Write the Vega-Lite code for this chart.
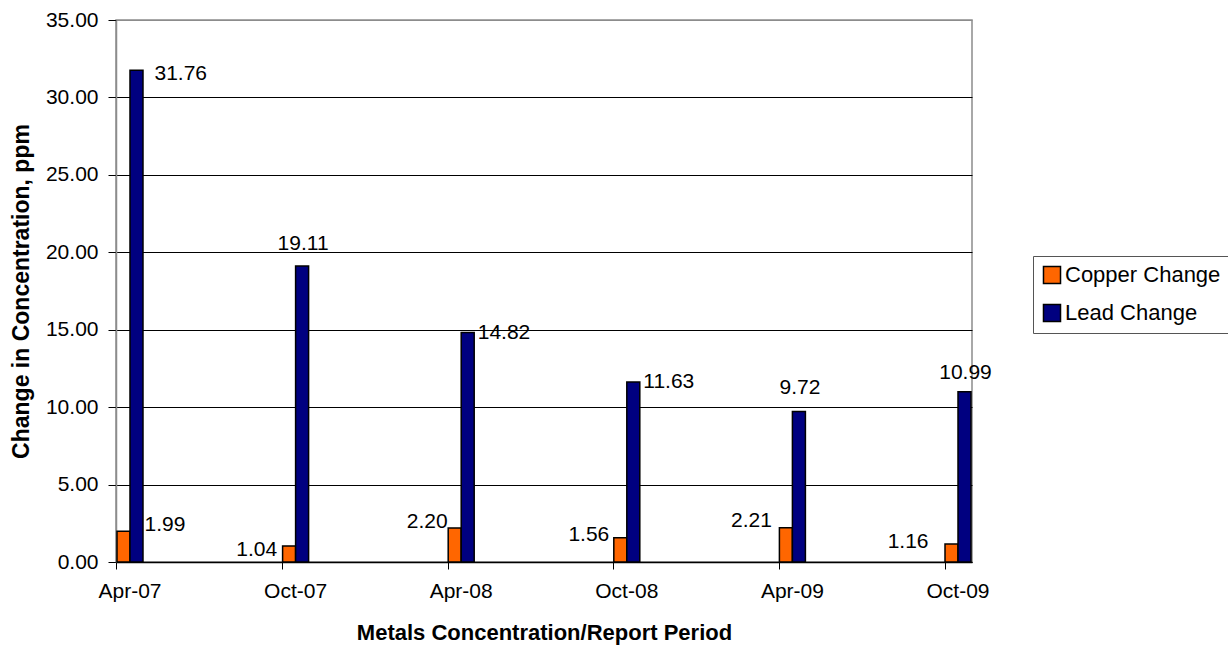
{
  "$schema": "https://vega.github.io/schema/vega-lite/v6.json",
  "width": 856,
  "height": 542,
  "autosize": {"type": "none"},
  "padding": {"left": 116, "top": 20, "right": 256, "bottom": 83},
  "background": "white",
  "config": {
    "font": "Liberation Sans",
    "view": {"stroke": "#8c8c8c", "strokeWidth": 1.5},
    "text": {"font": "Liberation Sans", "fontSize": 21, "color": "black"}
  },
  "data": {
    "values": [
      {"period": "Apr-07", "metal": "Copper Change", "value": 1.99},
      {"period": "Apr-07", "metal": "Lead Change", "value": 31.76},
      {"period": "Oct-07", "metal": "Copper Change", "value": 1.04},
      {"period": "Oct-07", "metal": "Lead Change", "value": 19.11},
      {"period": "Apr-08", "metal": "Copper Change", "value": 2.20},
      {"period": "Apr-08", "metal": "Lead Change", "value": 14.82},
      {"period": "Oct-08", "metal": "Copper Change", "value": 1.56},
      {"period": "Oct-08", "metal": "Lead Change", "value": 11.63},
      {"period": "Apr-09", "metal": "Copper Change", "value": 2.21},
      {"period": "Apr-09", "metal": "Lead Change", "value": 9.72},
      {"period": "Oct-09", "metal": "Copper Change", "value": 1.16},
      {"period": "Oct-09", "metal": "Lead Change", "value": 10.99}
    ]
  },
  "encoding": {
    "x": {
      "field": "period",
      "type": "nominal",
      "sort": ["Apr-07", "Oct-07", "Apr-08", "Oct-08", "Apr-09", "Oct-09"],
      "scale": {"paddingInner": 0.843, "paddingOuter": 0.006},
      "axis": {
        "title": "Metals Concentration/Report Period",
        "titleFontSize": 22,
        "titleFontWeight": "bold",
        "titleColor": "black",
        "titlePadding": 21,
        "labelAngle": 0,
        "labelFontSize": 21,
        "labelColor": "black",
        "labelPadding": 11,
        "bandPosition": 0,
        "tickSize": 7,
        "tickColor": "black",
        "domainColor": "black",
        "domainWidth": 1.5
      }
    },
    "xOffset": {
      "field": "metal",
      "sort": ["Copper Change", "Lead Change"],
      "scale": {"paddingInner": 0, "paddingOuter": 0}
    },
    "y": {
      "field": "value",
      "type": "quantitative",
      "scale": {"domain": [0, 35], "nice": false},
      "axis": {
        "title": "Change in Concentration, ppm",
        "titleFontSize": 23,
        "titleFontWeight": "bold",
        "titleColor": "black",
        "titlePadding": 12,
        "values": [0, 5, 10, 15, 20, 25, 30, 35],
        "format": ".2f",
        "labelFontSize": 21,
        "labelColor": "black",
        "labelPadding": 10,
        "tickSize": 8,
        "tickColor": "black",
        "domainColor": "#8c8c8c",
        "domainWidth": 1.5,
        "grid": true,
        "gridColor": {"condition": {"test": "datum.value === 35", "value": "#8c8c8c"}, "value": "black"},
        "gridWidth": 1
      }
    }
  },
  "layer": [
    {
      "mark": {"type": "bar", "stroke": "black", "strokeWidth": 1.5},
      "encoding": {
        "color": {
          "field": "metal",
          "type": "nominal",
          "sort": ["Copper Change", "Lead Change"],
          "scale": {"domain": ["Copper Change", "Lead Change"], "range": ["#ff6600", "#000080"]},
          "legend": {
            "title": null,
            "orient": "none",
            "legendX": 917,
            "legendY": 236,
            "symbolType": "square",
            "symbolSize": 290,
            "symbolStrokeColor": "black",
            "symbolStrokeWidth": 1.5,
            "symbolOpacity": 1,
            "labelFontSize": 22,
            "labelColor": "black",
            "labelOffset": 2,
            "rowPadding": 14,
            "padding": 8,
            "strokeColor": "#555555",
            "fillColor": "white"
          }
        }
      }
    },
    {
      "transform": [{"filter": "datum.period === 'Apr-07' && datum.metal === 'Lead Change'"}],
      "mark": {"type": "text", "align": "left", "baseline": "middle", "dx": 18, "dy": 4},
      "encoding": {"text": {"field": "value", "type": "quantitative", "format": ".2f"}}
    },
    {
      "transform": [{"filter": "(datum.period === 'Apr-08' || datum.period === 'Oct-08') && datum.metal === 'Lead Change'"}],
      "mark": {"type": "text", "align": "left", "baseline": "middle", "dx": 10, "dy": 0},
      "encoding": {"text": {"field": "value", "type": "quantitative", "format": ".2f"}}
    },
    {
      "transform": [{"filter": "datum.period === 'Oct-07' && datum.metal === 'Lead Change'"}],
      "mark": {"type": "text", "align": "center", "baseline": "alphabetic", "dx": 1, "dy": -16},
      "encoding": {"text": {"field": "value", "type": "quantitative", "format": ".2f"}}
    },
    {
      "transform": [{"filter": "datum.period === 'Apr-09' && datum.metal === 'Lead Change'"}],
      "mark": {"type": "text", "align": "center", "baseline": "alphabetic", "dx": 1, "dy": -17},
      "encoding": {"text": {"field": "value", "type": "quantitative", "format": ".2f"}}
    },
    {
      "transform": [{"filter": "datum.period === 'Oct-09' && datum.metal === 'Lead Change'"}],
      "mark": {"type": "text", "align": "center", "baseline": "alphabetic", "dx": 1, "dy": -13},
      "encoding": {"text": {"field": "value", "type": "quantitative", "format": ".2f"}}
    },
    {
      "transform": [{"filter": "datum.period === 'Apr-07' && datum.metal === 'Copper Change'"}],
      "mark": {"type": "text", "align": "left", "baseline": "middle", "dx": 21, "dy": -6},
      "encoding": {"text": {"field": "value", "type": "quantitative", "format": ".2f"}}
    },
    {
      "transform": [{"filter": "datum.period === 'Oct-07' && datum.metal === 'Copper Change'"}],
      "mark": {"type": "text", "align": "right", "baseline": "middle", "dx": -12, "dy": 4},
      "encoding": {"text": {"field": "value", "type": "quantitative", "format": ".2f"}}
    },
    {
      "transform": [{"filter": "datum.period === 'Apr-08' && datum.metal === 'Copper Change'"}],
      "mark": {"type": "text", "align": "right", "baseline": "middle", "dx": -7, "dy": -6},
      "encoding": {"text": {"field": "value", "type": "quantitative", "format": ".2f"}}
    },
    {
      "transform": [{"filter": "datum.period === 'Oct-08' && datum.metal === 'Copper Change'"}],
      "mark": {"type": "text", "align": "right", "baseline": "middle", "dx": -11, "dy": -3},
      "encoding": {"text": {"field": "value", "type": "quantitative", "format": ".2f"}}
    },
    {
      "transform": [{"filter": "datum.period === 'Apr-09' && datum.metal === 'Copper Change'"}],
      "mark": {"type": "text", "align": "right", "baseline": "middle", "dx": -14, "dy": -7},
      "encoding": {"text": {"field": "value", "type": "quantitative", "format": ".2f"}}
    },
    {
      "transform": [{"filter": "datum.period === 'Oct-09' && datum.metal === 'Copper Change'"}],
      "mark": {"type": "text", "align": "right", "baseline": "middle", "dx": -23, "dy": -2},
      "encoding": {"text": {"field": "value", "type": "quantitative", "format": ".2f"}}
    }
  ]
}
